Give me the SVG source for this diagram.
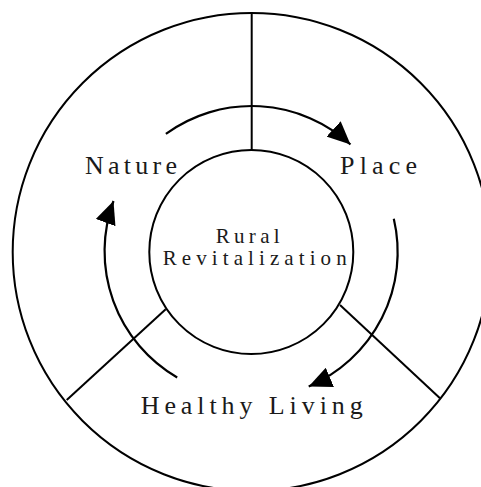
<svg xmlns="http://www.w3.org/2000/svg" width="481" height="487" viewBox="0 0 481 487">
<style>
.ring{fill:none;stroke:#000;stroke-width:2}
.div{stroke:#000;stroke-width:2;fill:none}
.arc{fill:none;stroke:#000;stroke-width:2.2;marker-end:url(#ah)}
text{font-family:"Liberation Serif","DejaVu Serif",serif;fill:#1a1a1a;text-anchor:middle}
.lbl{font-size:26px}
.ctr{font-size:21px}
</style>
<defs>
<marker id="ah" markerUnits="userSpaceOnUse" markerWidth="23" markerHeight="21" refX="23" refY="10.5" orient="auto">
<path d="M0,0 L23,10.5 L0,21 z" fill="#000"/>
</marker>
</defs>
<rect width="481" height="487" fill="#fff"/>
<g id="outer"><circle class="ring" cx="251.7" cy="252" r="239"/></g>
<g id="dividers">
<line class="div" x1="251.7" y1="13" x2="251.7" y2="150"/>
<line class="div" x1="165.7" y1="309.3" x2="66.7" y2="400"/>
<line class="div" x1="340" y1="305" x2="440" y2="398.3"/>
</g>
<g id="connectors">
<path class="arc" d="M165.9,133.9 A146,146 0 0 1 350.5,144.5"/>
<path class="arc" d="M393.8,218.7 A146,146 0 0 1 308.7,386.4"/>
<path class="arc" d="M177.2,377.5 A146,146 0 0 1 113.5,201"/>
</g>
<g id="center"><circle class="ring" cx="251.3" cy="252" r="102"/>
<text class="ctr" x="247.7" y="243" textLength="64" lengthAdjust="spacing">Rural</text>
<text class="ctr" x="254.7" y="265" textLength="184" lengthAdjust="spacing">Revitalization</text>
</g>
<g id="nature"><text class="lbl" x="131" y="174" textLength="92" lengthAdjust="spacing">Nature</text></g>
<g id="place"><text class="lbl" x="378.5" y="174" textLength="77" lengthAdjust="spacing">Place</text></g>
<g id="healthy"><text class="lbl" x="251.7" y="414" font-size="28" textLength="222" lengthAdjust="spacing">Healthy Living</text></g>
</svg>
